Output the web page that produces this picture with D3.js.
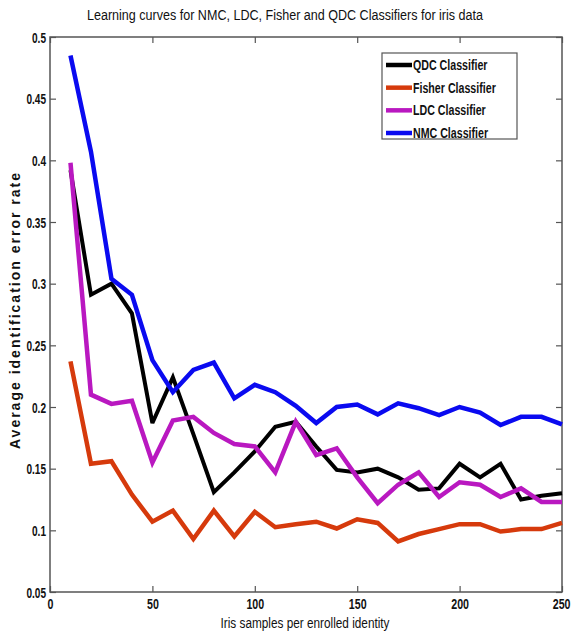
<!DOCTYPE html>
<html>
<head>
<meta charset="utf-8">
<script src="https://cdn.jsdelivr.net/npm/d3@7"></script>
<style>
  body { margin: 0; background: #fff; }
  svg text { font-family: "Liberation Sans Narrow", "Arial Narrow", "Liberation Sans", sans-serif; }
</style>
</head>
<body>
<svg id="chart" width="571" height="632"></svg>
<script>
// Samples per enrolled identity
const samples = [10, 20, 30, 40, 50, 60, 70, 80, 90, 100, 110, 120, 130, 140, 150, 160, 170, 180, 190, 200, 210, 220, 230, 240, 250];

// Average identification error rate per classifier
const qdc = [0.392, 0.291, 0.300, 0.276, 0.187, 0.224, 0.178, 0.131, 0.147, 0.164, 0.184, 0.188, 0.168, 0.149, 0.147, 0.150, 0.143, 0.133, 0.134, 0.154, 0.143, 0.154, 0.125, 0.128, 0.130];
const fisher = [0.237, 0.154, 0.156, 0.129, 0.107, 0.116, 0.093, 0.116, 0.095, 0.115, 0.1025, 0.105, 0.107, 0.1015, 0.109, 0.106, 0.091, 0.097, 0.101, 0.105, 0.105, 0.099, 0.101, 0.101, 0.106];
const ldc = [0.398, 0.210, 0.2025, 0.205, 0.155, 0.189, 0.192, 0.179, 0.170, 0.168, 0.147, 0.188, 0.161, 0.1665, 0.143, 0.122, 0.137, 0.147, 0.127, 0.139, 0.137, 0.127, 0.134, 0.123, 0.123];
const nmc = [0.485, 0.407, 0.304, 0.291, 0.238, 0.212, 0.230, 0.236, 0.207, 0.218, 0.212, 0.201, 0.187, 0.200, 0.202, 0.194, 0.203, 0.199, 0.1935, 0.200, 0.1954, 0.1854, 0.192, 0.192, 0.186];

const seriesNames = ["QDC Classifier", "Fisher Classifier", "LDC Classifier", "NMC Classifier"];
const seriesColors = ["#000000", "#d63a0c", "#b918c0", "#0a0af0"];
const seriesValues = [qdc, fisher, ldc, nmc];

const xTicks = [0, 50, 100, 150, 200, 250];
const yTicks = [0.05, 0.1, 0.15, 0.2, 0.25, 0.3, 0.35, 0.4, 0.45, 0.5];

const titleText = "Learning curves for NMC, LDC, Fisher and QDC Classifiers for iris data";
const xLabel = "Iris samples per enrolled identity";
const yLabel = "Average identification error rate";

const svg = d3.select("#chart");
const plot = { left: 50, right: 562, top: 37, bottom: 592 };

const x = d3.scaleLinear().domain([0, 250]).range([plot.left, plot.right]);
const y = d3.scaleLinear().domain([0.05, 0.5]).range([plot.bottom, plot.top]);

const axisColor = "#555";
const tickLen = 6;

// Squeeze text horizontally to get a narrow face from the regular one
function condense(sel, f) {
  sel.each(function () {
    const L = this.getComputedTextLength();
    d3.select(this).attr("textLength", L * f).attr("lengthAdjust", "spacingAndGlyphs");
  });
}

// Frame
svg.append("rect")
  .attr("x", plot.left).attr("y", plot.top)
  .attr("width", plot.right - plot.left).attr("height", plot.bottom - plot.top)
  .attr("fill", "none").attr("stroke", axisColor).attr("stroke-width", 1.5);

// Axes with inward ticks
const fmt = d3.format("~g");
const xAxisB = svg.append("g").attr("transform", `translate(0,${plot.bottom})`)
  .call(d3.axisBottom(x).tickValues(xTicks).tickFormat(fmt).tickSizeInner(-tickLen).tickSizeOuter(0).tickPadding(7));
const xAxisT = svg.append("g").attr("transform", `translate(0,${plot.top})`)
  .call(d3.axisTop(x).tickValues(xTicks).tickFormat("").tickSizeInner(-tickLen).tickSizeOuter(0));
const yAxisL = svg.append("g").attr("transform", `translate(${plot.left},0)`)
  .call(d3.axisLeft(y).tickValues(yTicks).tickFormat(fmt).tickSizeInner(-tickLen).tickSizeOuter(0).tickPadding(4));
const yAxisR = svg.append("g").attr("transform", `translate(${plot.right},0)`)
  .call(d3.axisRight(y).tickValues(yTicks).tickFormat("").tickSizeInner(-tickLen).tickSizeOuter(0));

[xAxisB, xAxisT, yAxisL, yAxisR].forEach(g => {
  g.select(".domain").remove();
  g.selectAll(".tick line").attr("stroke", axisColor).attr("stroke-width", 1.2);
  g.selectAll(".tick text").attr("fill", "#111").style("font-size", "14px").style("font-weight", "bold");
});
xAxisB.selectAll(".tick text").attr("dy", "0.72em");
yAxisL.selectAll(".tick text").attr("dy", "0.36em");
condense(xAxisB.selectAll(".tick text"), 0.76);
condense(yAxisL.selectAll(".tick text"), 0.72);
// keep the last x label inside the canvas
xAxisB.selectAll(".tick text").filter(d => d === 250)
  .attr("text-anchor", "end").attr("x", 571 - plot.right - 1);

// Curves
const line = d3.line()
  .x((d, i) => x(samples[i]))
  .y(d => y(d));

seriesValues.forEach((vals, k) => {
  svg.append("path")
    .datum(vals)
    .attr("d", line)
    .attr("fill", "none")
    .attr("stroke", seriesColors[k])
    .attr("stroke-width", k === 0 ? 4 : 4.5)
    .attr("stroke-linejoin", "miter")
    .attr("stroke-miterlimit", 3);
});

// Title and axis labels
svg.append("text")
  .attr("x", 285).attr("y", 20)
  .attr("text-anchor", "middle")
  .style("font-size", "14px").attr("fill", "#111")
  .attr("textLength", 396).attr("lengthAdjust", "spacingAndGlyphs")
  .text(titleText);

svg.append("text")
  .attr("x", (plot.left + plot.right) / 2 - 1).attr("y", 628)
  .attr("text-anchor", "middle")
  .style("font-size", "14px").attr("fill", "#111")
  .attr("textLength", 169).attr("lengthAdjust", "spacingAndGlyphs")
  .text(xLabel);

svg.append("text")
  .attr("transform", `translate(20,311) rotate(-90)`)
  .attr("text-anchor", "middle")
  .style("font-size", "14px").style("font-weight", "bold").attr("fill", "#111")
  .attr("textLength", 276).attr("lengthAdjust", "spacing")
  .text(yLabel);

// Legend
const legend = svg.append("g");
const lgBox = { x: 382, y: 53, w: 135, h: 86 };
legend.append("rect")
  .attr("x", lgBox.x).attr("y", lgBox.y).attr("width", lgBox.w).attr("height", lgBox.h)
  .attr("fill", "#fff").attr("stroke", axisColor).attr("stroke-width", 1.2);

const lgRow = d3.scaleLinear().domain([0, 3]).range([65, 133]);
seriesNames.forEach((name, k) => {
  legend.append("line")
    .attr("x1", 386).attr("x2", 412)
    .attr("y1", lgRow(k)).attr("y2", lgRow(k))
    .attr("stroke", seriesColors[k]).attr("stroke-width", 4.5);
  legend.append("text")
    .attr("x", 413).attr("y", lgRow(k)).attr("dy", "0.36em")
    .style("font-size", "14px").style("font-weight", "bold").attr("fill", "#111")
    .text(name);
});
condense(legend.selectAll("text"), 0.76);
</script>
</body>
</html>
